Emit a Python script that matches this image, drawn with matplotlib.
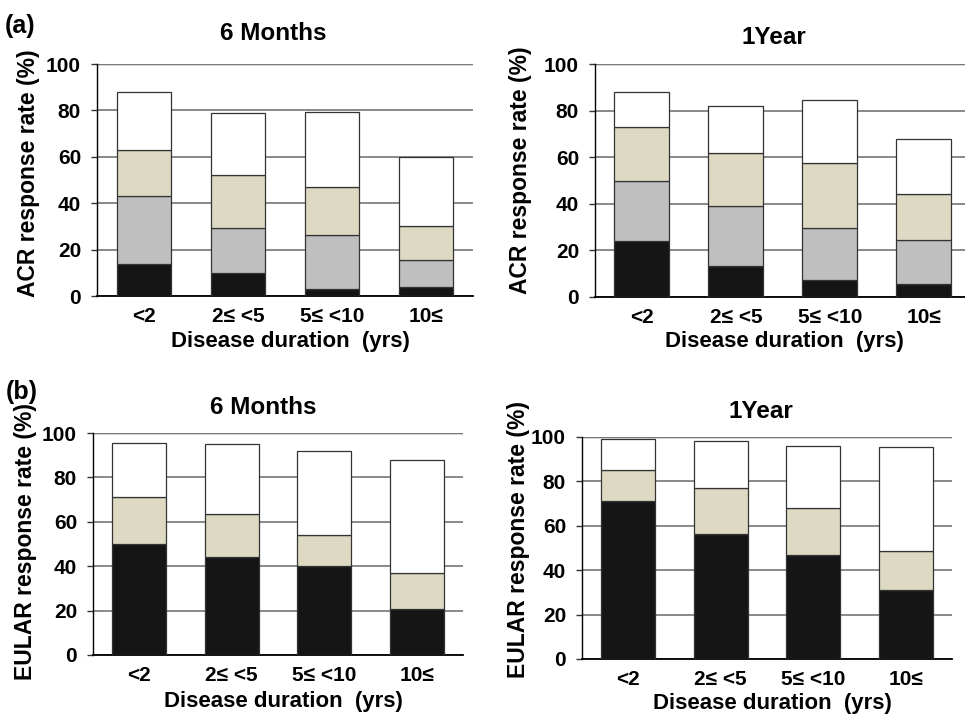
import numpy as np
import matplotlib
matplotlib.use('Agg')
from matplotlib import pyplot as plt

plt.rcParams['font.family'] = ['Liberation Sans', 'DejaVu Sans']
plt.rcParams['font.weight'] = 'bold'

categories = ['<2', '2\u2264 <5', '5\u2264 <10', '10\u2264']
yticks = [0, 20, 40, 60, 80, 100]

# ACR, 6 months (segment heights, bottom -> top)
acr6_black = [14, 10, 3, 4]
acr6_grey = [29, 19.5, 23.5, 11.5]
acr6_beige = [20, 22.5, 20.5, 14.5]
acr6_white = [25, 27, 32.5, 30]

# ACR, 1 year
acr12_black = [24, 13.5, 7.5, 5.5]
acr12_grey = [26, 25.5, 22, 19]
acr12_beige = [23, 23, 28, 19.5]
acr12_white = [15, 20, 27, 24]

# EULAR, 6 months
eular6_black = [50, 44, 40, 20.5]
eular6_beige = [21, 19.5, 14, 16.5]
eular6_white = [24.5, 31.5, 38, 51]

# EULAR, 1 year
eular12_black = [71, 56.5, 47, 31]
eular12_beige = [14, 20.5, 21, 17.5]
eular12_white = [14, 21, 28, 47]

COL_BLACK = '#151515'
COL_GREY = '#bfbfbf'
COL_BEIGE = '#ddd9c3'
COL_WHITE = '#ffffff'

W, H = 965, 716
fig = plt.figure(figsize=(W / 100, H / 100), dpi=100)


def px_axes(x0, y0, x1, y1):
    # pixel box (top-left origin) -> figure fraction
    return fig.add_axes([x0 / W, 1 - y1 / H, (x1 - x0) / W, (y1 - y0) / H])


def draw_panel(ax, segments, colors, xmax=3.5):
    x = np.arange(len(categories))
    bottom = np.zeros(len(categories))
    for seg, col in zip(segments, colors):
        ax.bar(x, seg, width=0.585, bottom=bottom, color=col,
               edgecolor='#333333', linewidth=0.9, zorder=3)
        bottom += np.array(seg)
    ax.set_xlim(-0.5, xmax)
    ax.set_ylim(0, 100)
    ax.set_yticks(yticks)
    ax.set_xticks(x)
    ax.set_xticklabels(categories, fontsize=15, fontweight='bold')
    ax.set_yticklabels([str(t) for t in yticks], fontsize=15, fontweight='bold')
    ax.grid(axis='y', color='#808080', linewidth=1.3, zorder=0)
    ax.axhline(100, color='#333333', linewidth=1.0, zorder=1)
    for s in ['top', 'right']:
        ax.spines[s].set_visible(False)
    ax.spines['left'].set_linewidth(1.0)
    ax.spines['bottom'].set_linewidth(1.3)
    ax.tick_params(axis='y', length=4.5, width=1.0, color='#333333', pad=7)
    ax.tick_params(axis='x', length=0, pad=8)


a1 = px_axes(97, 64, 473, 296)
draw_panel(a1, [acr6_black, acr6_grey, acr6_beige, acr6_white],
           [COL_BLACK, COL_GREY, COL_BEIGE, COL_WHITE])
a2 = px_axes(595, 64, 965, 297)
draw_panel(a2, [acr12_black, acr12_grey, acr12_beige, acr12_white],
           [COL_BLACK, COL_GREY, COL_BEIGE, COL_WHITE], xmax=3.44)
b1 = px_axes(93, 433, 463, 655)
draw_panel(b1, [eular6_black, eular6_beige, eular6_white],
           [COL_BLACK, COL_BEIGE, COL_WHITE])
b2 = px_axes(582, 437, 952, 659)
draw_panel(b2, [eular12_black, eular12_beige, eular12_white],
           [COL_BLACK, COL_BEIGE, COL_WHITE])


def ftext(x, y, s, size, rot=0):
    fig.text(x / W, 1 - y / H, s, fontsize=size, fontweight='bold',
             ha='center', va='center', rotation=rot)


ftext(20, 26, '(a)', 18)
ftext(22, 392, '(b)', 18)

ftext(273, 34, '6 Months', 17.5)
ftext(774, 37, '1Year', 17.5)
ftext(263, 407, '6 Months', 17.5)
ftext(761, 411, '1Year', 17.5)

ftext(290, 342, 'Disease duration  (yrs)', 16)
ftext(784, 342, 'Disease duration  (yrs)', 16)
ftext(283, 702, 'Disease duration  (yrs)', 16)
ftext(772, 704, 'Disease duration  (yrs)', 16)

ftext(29, 173, 'ACR response rate (%)', 16.5, rot=90)
ftext(520, 170, 'ACR response rate (%)', 16.5, rot=90)
ftext(26, 542, 'EULAR response rate (%)', 16.5, rot=90)
ftext(519, 540, 'EULAR response rate (%)', 16.5, rot=90)

fig.savefig('out.png', dpi=100)
